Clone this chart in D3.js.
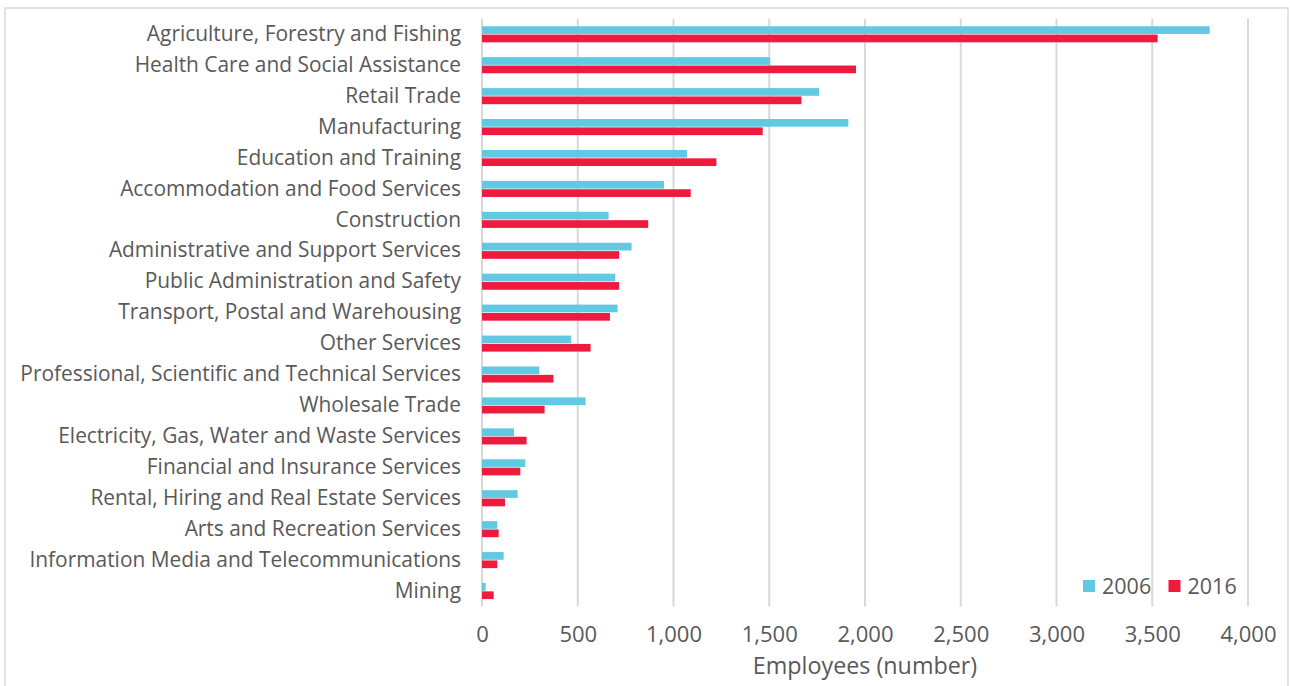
<!DOCTYPE html>
<html>
<head>
<meta charset="utf-8">
<script src="https://cdn.jsdelivr.net/npm/d3@7"></script>
<style>
  body { margin: 0; background: #fff; }
  text { font-family: "Open Sans", Lato, sans-serif; fill: #595959; }
</style>
</head>
<body>
<div id="chart"></div>
<script>
const width = 1290
const height = 686
const margin = { left: 482, right: 42, top: 18.8, bottom: 79.5 }

// data
const industries = [
    "Agriculture, Forestry and Fishing",
    "Health Care and Social Assistance",
    "Retail Trade",
    "Manufacturing",
    "Education and Training",
    "Accommodation and Food Services",
    "Construction",
    "Administrative and Support Services",
    "Public Administration and Safety",
    "Transport, Postal and Warehousing",
    "Other Services",
    "Professional, Scientific and Technical Services",
    "Wholesale Trade",
    "Electricity, Gas, Water and Waste Services",
    "Financial and Insurance Services",
    "Rental, Hiring and Real Estate Services",
    "Arts and Recreation Services",
    "Information Media and Telecommunications",
    "Mining"
]
const employees2006 = [3800, 1505, 1760, 1913, 1070, 950, 661, 781, 696, 708, 466, 299, 541, 167, 226, 186, 80, 113, 19]
const employees2016 = [3528, 1953, 1668, 1466, 1224, 1090, 868, 716, 716, 668, 567, 373, 327, 233, 200, 120, 87, 80, 61]
const years = ["2006", "2016"]
const xTicks = [0, 500, 1000, 1500, 2000, 2500, 3000, 3500, 4000]

const data = industries.map((name, i) => ({
    name: name,
    values: [
        { year: "2006", value: employees2006[i] },
        { year: "2016", value: employees2016[i] }
    ]
}))

const innerW = width - margin.left - margin.right
const innerH = height - margin.top - margin.bottom

const svg = d3.select("#chart").append("svg")
    .attr("width", width).attr("height", height)

// outer frame
svg.append("rect")
    .attr("x", 5).attr("y", 8)
    .attr("width", 1283).attr("height", 720)
    .attr("fill", "none")
    .attr("stroke", "#d9d9d9")
    .attr("stroke-width", 1.5)

const g = svg.append("g")
    .attr("transform", `translate(${margin.left}, ${margin.top})`)

const x = d3.scaleLinear().domain([0, 4000]).range([0, innerW])
const y = d3.scaleBand().domain(industries).range([0, innerH])
    .paddingInner(0.48).paddingOuter(0.24)
const ySub = d3.scaleBand().domain(years).range([0, y.bandwidth()]).paddingInner(0.08)
const color = d3.scaleOrdinal().domain(years).range(["#62c9e3", "#ef1b3e"])

// gridlines
g.append("g").selectAll("line")
    .data(xTicks)
    .join("line")
        .attr("x1", d => x(d)).attr("x2", d => x(d))
        .attr("y1", 0).attr("y2", innerH)
        .attr("stroke", "#d9d9d9")
        .attr("stroke-width", 2)

// bars
g.append("g").selectAll("g")
    .data(data)
    .join("g")
        .attr("transform", d => `translate(0, ${y(d.name)})`)
    .selectAll("rect")
    .data(d => d.values)
    .join("rect")
        .attr("x", x(0))
        .attr("y", d => ySub(d.year))
        .attr("width", d => x(d.value) - x(0))
        .attr("height", ySub.bandwidth())
        .attr("fill", d => color(d.year))

// category labels
const yAxis = d3.axisLeft(y).tickSize(0).tickPadding(21)
const yGroup = g.append("g").call(yAxis)
yGroup.select(".domain").remove()
yGroup.selectAll("text")
    .attr("font-size", 20.9)
    .attr("font-family", null)
    .attr("fill", null)

// x tick labels
const xAxis = d3.axisBottom(x).tickValues(xTicks).tickSize(0).tickPadding(20)
    .tickFormat(d3.format(","))
const xGroup = g.append("g")
    .attr("transform", `translate(0, ${innerH})`)
    .call(xAxis)
xGroup.select(".domain").remove()
xGroup.selectAll("text")
    .attr("font-size", 22)
    .attr("font-family", null)
    .attr("fill", null)

// axis title
g.append("text")
    .attr("x", innerW / 2)
    .attr("y", innerH + 68)
    .attr("text-anchor", "middle")
    .attr("font-size", 23.3)
    .text("Employees (number)")

// legend
const legend = svg.append("g")
    .attr("transform", "translate(1083, 580)")
const legendItem = legend.selectAll("g")
    .data(years)
    .join("g")
        .attr("transform", (d, i) => `translate(${i * 85.5}, 0)`)
legendItem.append("rect")
    .attr("width", 12).attr("height", 12)
    .attr("fill", d => color(d))
legendItem.append("text")
    .attr("x", 19).attr("y", 13.5)
    .attr("font-size", 21.5)
    .text(d => d)
</script>
</body>
</html>
